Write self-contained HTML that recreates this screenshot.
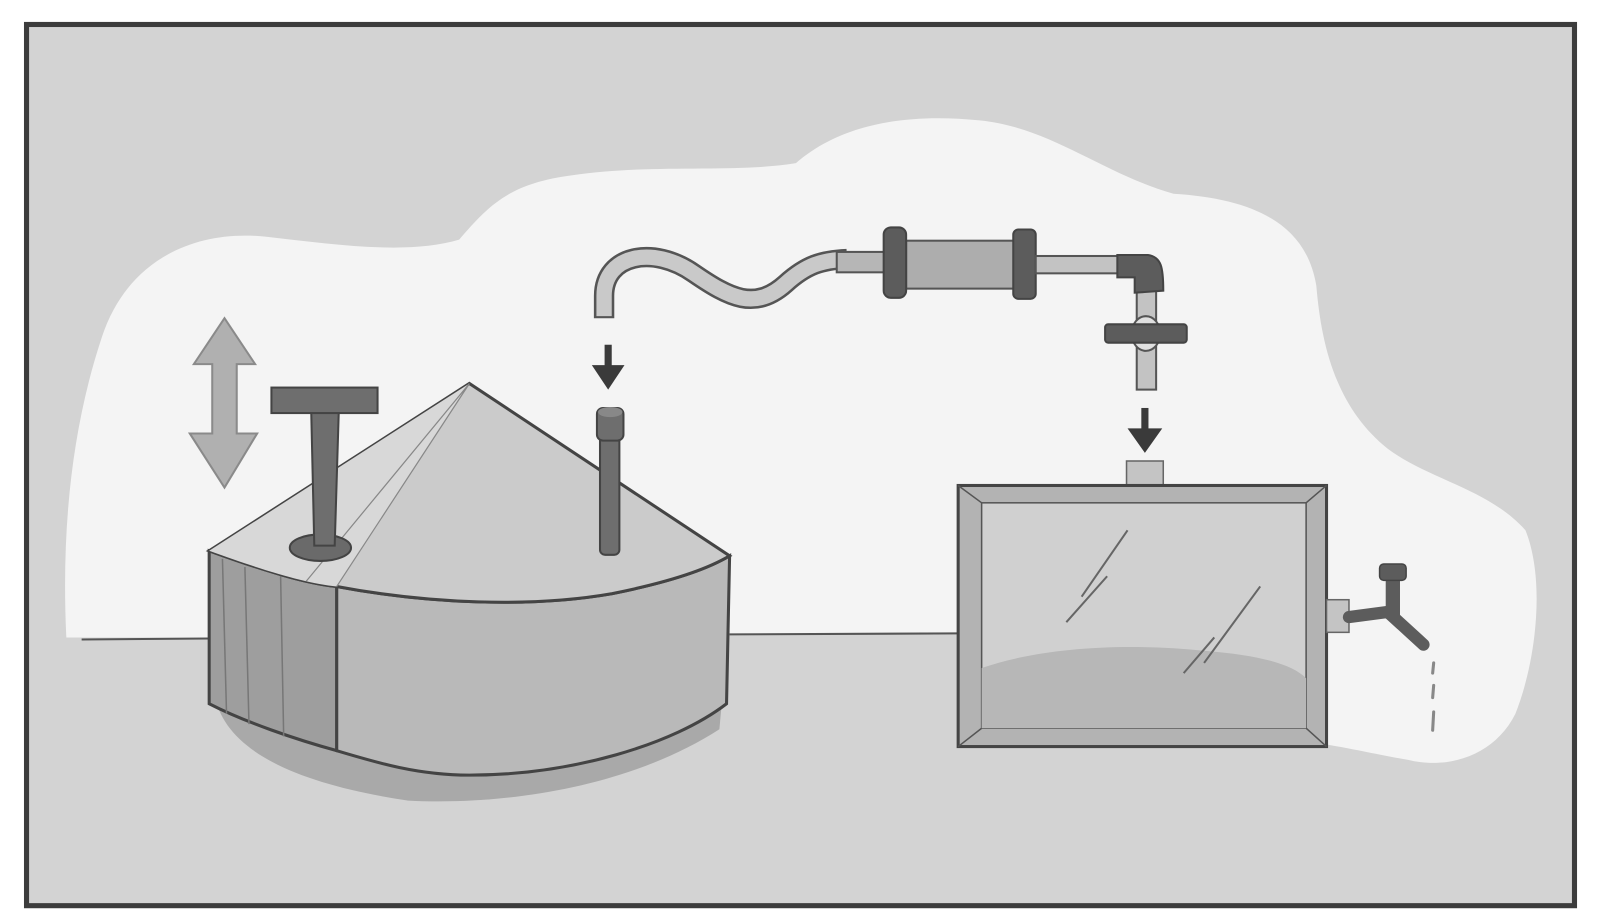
<!DOCTYPE html>
<html><head><meta charset="utf-8"><style>html,body{margin:0;padding:0;background:#fff}svg{display:block}</style></head>
<body>
<svg width="1600" height="922" viewBox="0 0 1568 904" preserveAspectRatio="none" xmlns="http://www.w3.org/2000/svg">
<rect x="0" y="0" width="1568" height="904" fill="#ffffff"/>
<rect x="26" y="24" width="1517" height="864" fill="#d3d3d3" stroke="#3c3c3c" stroke-width="5"/>
<!-- cloud -->
<path d="M65,625 C60,520 70,420 100,330 C125,255 190,225 260,232 C330,240 400,250 450,235 C480,200 500,180 560,172 C640,160 720,170 780,160 C820,125 880,110 960,118 C1030,125 1080,170 1150,190 C1230,195 1280,220 1290,280 C1295,340 1310,400 1360,440 C1400,470 1460,480 1495,520 C1515,570 1505,650 1485,700 C1465,740 1420,755 1380,745 C1350,740 1330,735 1300,730 L1300,620 L940,620 L715,622 L205,625 Z" fill="#f4f4f4"/>
<!-- floor lines -->
<path d="M80,627 L205,626 M715,622 L940,621" stroke="#555" stroke-width="2" fill="none"/>
<!-- tank shadow -->
<path d="M210,680 C220,740 300,770 400,785 C500,790 620,770 705,715 L710,660 L210,660 Z" fill="#a9a9a9"/>
<!-- tank front -->
<path d="M205,540 C260,560 300,572 330,575 L330,736 C290,725 240,708 205,690 Z" fill="#9e9e9e" stroke="#444" stroke-width="3"/>
<path d="M330,575 C420,592 520,596 600,582 C650,572 690,560 715,545 L712,690 C660,730 560,760 460,760 C410,760 370,748 330,736 Z" fill="#b9b9b9" stroke="#444" stroke-width="3"/>
<path d="M218,548 L222,700 M240,556 L244,710 M275,565 L278,722" stroke="#777" stroke-width="1.5"/>
<!-- tank top -->
<path d="M205,540 L460,376 L715,545 C690,560 650,572 600,582 C520,596 420,592 330,575 C300,572 260,560 205,540 Z" fill="#cbcbcb" stroke="#444" stroke-width="3"/>
<path d="M460,376 L205,540 C260,560 300,572 330,575 Z" fill="#d8d8d8"/>
<path d="M460,376 L330,575 M460,376 L300,570" stroke="#888" stroke-width="1.2"/>
<!-- T handle -->
<ellipse cx="314" cy="537" rx="30" ry="13" fill="#6a6a6a" stroke="#444" stroke-width="2"/>
<path d="M305,403 L332,403 L328,535 L308,535 Z" fill="#6e6e6e" stroke="#444" stroke-width="2"/>
<rect x="266" y="380" width="104" height="25" fill="#6e6e6e" stroke="#444" stroke-width="2"/>
<!-- double arrow -->
<polygon points="220,312 250,357 232,357 232,425 252,425 220,478 186,425 208,425 208,357 190,357" fill="#b0b0b0" stroke="#8a8a8a" stroke-width="2"/>
<!-- stand pipe -->
<rect x="588" y="412" width="19" height="132" rx="5" fill="#6e6e6e" stroke="#444" stroke-width="2"/>
<rect x="585" y="400" width="26" height="32" rx="6" fill="#6e6e6e" stroke="#444" stroke-width="2"/>
<ellipse cx="598" cy="404" rx="12" ry="5" fill="#888"/>
<!-- arrow 1 -->
<path d="M596,338 L596,362" stroke="#3a3a3a" stroke-width="7"/>
<polygon points="580,358 612,358 596,382" fill="#3a3a3a"/>
<!-- hose -->
<path d="M592,312 L592,290 C592,250 640,240 680,268 C715,292 740,305 770,278 C790,260 805,255 830,254" stroke="#555" stroke-width="20" fill="none"/>
<path d="M592,310 L592,290 C592,250 640,240 680,268 C715,292 740,305 770,278 C790,260 805,255 830,254" stroke="#c9c9c9" stroke-width="15" fill="none"/>
<rect x="820" y="247" width="50" height="20" fill="#b6b6b6" stroke="#555" stroke-width="2"/>
<rect x="888" y="236" width="107" height="47" fill="#adadad" stroke="#555" stroke-width="2"/>
<rect x="866" y="223" width="22" height="69" rx="7" fill="#5c5c5c" stroke="#444" stroke-width="2"/>
<rect x="993" y="225" width="22" height="68" rx="5" fill="#5c5c5c" stroke="#444" stroke-width="2"/>
<rect x="1015" y="251" width="85" height="17" fill="#c3c3c3" stroke="#555" stroke-width="2"/>
<rect x="1114" y="280" width="19" height="102" fill="#c3c3c3" stroke="#555" stroke-width="2"/>
<path d="M1095,250 L1125,250 C1138,252 1140,262 1140,285 L1112,287 L1112,272 L1095,272 Z" fill="#5c5c5c" stroke="#444" stroke-width="2"/>
<ellipse cx="1123" cy="327" rx="14" ry="17" fill="#e0e0e0" stroke="#555" stroke-width="2"/>
<rect x="1083" y="318" width="80" height="18" rx="3" fill="#5c5c5c" stroke="#444" stroke-width="2"/>
<!-- arrow 2 -->
<path d="M1122,400 L1122,425" stroke="#3a3a3a" stroke-width="7"/>
<polygon points="1105,420 1139,420 1122,444" fill="#3a3a3a"/>
<!-- box -->
<rect x="1104" y="452" width="36" height="25" fill="#c4c4c4" stroke="#666" stroke-width="1.5"/>
<rect x="939" y="476" width="361" height="256" fill="#b3b3b3" stroke="#444" stroke-width="3"/>
<rect x="962" y="493" width="318" height="221" fill="#d0d0d0" stroke="#555" stroke-width="1.5"/>
<path d="M962,655 C1020,635 1100,630 1180,638 C1230,642 1265,650 1280,665 L1280,714 L962,714 Z" fill="#b7b7b7"/>
<path d="M939,476 L962,493 M1300,476 L1280,493 M939,732 L962,714 M1300,732 L1280,714" stroke="#555" stroke-width="1.5"/>
<path d="M1105,520 L1060,585 M1085,565 L1045,610 M1235,575 L1180,650 M1190,625 L1160,660" stroke="#666" stroke-width="2"/>
<!-- tap -->
<rect x="1300" y="588" width="22" height="32" fill="#c4c4c4" stroke="#666" stroke-width="1.5"/>
<path d="M1322,605 L1360,600 L1395,632" stroke="#5c5c5c" stroke-width="12" fill="none" stroke-linecap="round"/>
<rect x="1358" y="565" width="14" height="38" fill="#5c5c5c"/>
<rect x="1352" y="553" width="26" height="16" rx="4" fill="#5c5c5c" stroke="#444" stroke-width="1.5"/>
<path d="M1405,650 L1404,660 M1405,672 L1404,684 M1405,698 L1404,716" stroke="#888" stroke-width="3" stroke-linecap="round"/>
</svg>
</body></html>
